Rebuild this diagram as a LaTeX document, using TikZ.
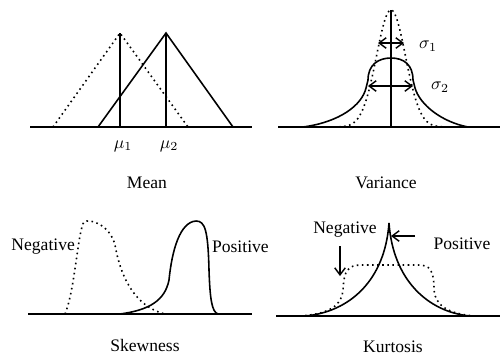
\documentclass[tikz,border=0pt]{standalone}
\usepackage{fontspec}
\setmainfont{Liberation Serif}
\usetikzlibrary{arrows.meta}

\begin{document}
\begin{tikzpicture}[x=0.02cm, y=-0.02cm,
    baseline/.style={line width=0.8pt},
    solidcurve/.style={line width=0.9pt},
    dotcurve/.style={line width=0.9pt, dotted},
    pointer/.style={line width=0.8pt, -{Straight Barb[length=4pt,width=6pt]}},
    twoway/.style={line width=0.8pt, {Straight Barb[length=4pt,width=6pt]}-{Straight Barb[length=4pt,width=6pt]}},
    lbl/.style={font=\normalsize, inner sep=1pt}]
    \useasboundingbox (0,0) rectangle (500,356);

    % Mean
    \draw[baseline] (30,127) -- (252,127);
    \draw[dotcurve] (53,127) -- (120,33) -- (188,127);
    \draw[solidcurve] (98,127) -- (166,33) -- (233,127);
    \draw[solidcurve] (120,33) -- (120,127);
    \draw[solidcurve] (166,33) -- (166,127);
    \node[lbl] (mu1) at (123,146) {$\mu_{1}$};
    \node[lbl] (mu2) at (169,146) {$\mu_{2}$};
    \node[lbl] (meanttl) at (147,183) {Mean};

    % Variance
    \draw[baseline] (278,127) -- (500,127);
    \draw[dotcurve] plot[domain=-52:52, samples=105, smooth] ({391+\x}, {127-117*exp(-(\x/14.5)^2/2)});
    \draw[solidcurve] (303,127) .. controls (340,122) and (362,105) .. (366,88)
        -- (368,80) .. controls (368,65) and (378,58) .. (391,58)
        .. controls (404,58) and (413,65) .. (413,80)
        -- (415,88) .. controls (420,105) and (442,122) .. (468,127);
    \draw[solidcurve] (391,10) -- (391,127);
    \coordinate (s1l) at (378,43);
    \coordinate (s1r) at (404,43);
    \coordinate (s2l) at (368,86);
    \coordinate (s2r) at (413,86);
    \draw[twoway] (s1l) -- (s1r);
    \draw[twoway] (s2l) -- (s2r);
    \node[lbl] (sig1) at (428,46) {$\sigma_{1}$};
    \node[lbl] (sig2) at (440,87) {$\sigma_{2}$};
    \node[lbl] (varttl) at (386,183) {Variance};

    % Skewness
    \draw[baseline] (28,314) -- (252,314);
    \draw[dotcurve] (65,314) .. controls (75,290) and (78,230) .. (84,222)
        .. controls (90,218) and (110,225) .. (115,245)
        .. controls (122,285) and (140,308) .. (165,314);
    \draw[solidcurve] (120,314) .. controls (150,310) and (165,300) .. (169,280)
        .. controls (172,250) and (180,222) .. (196,221)
        .. controls (205,221) and (208,230) .. (209,270)
        .. controls (210,300) and (212,312) .. (218,314);
    \node[lbl, anchor=east] (skneg) at (77,247) {Negative};
    \node[lbl, anchor=west] (skpos) at (210,247) {Positive};
    \node[lbl] (skewttl) at (145,345) {Skewness};

    % Kurtosis
    \draw[baseline] (276,316) -- (500,316);
    \draw[dotcurve] (300,316) .. controls (330,314) and (342,305) .. (343,290)
        .. controls (344,270) and (348,265) .. (362,265) -- (418,265)
        .. controls (430,265) and (434,270) .. (434,290)
        .. controls (435,305) and (448,314) .. (475,316);
    \draw[solidcurve] (305,316) .. controls (350,312) and (385,280) .. (389,223)
        .. controls (393,280) and (428,312) .. (470,316);
    \node[lbl] (kuneg) at (345,230) {Negative};
    \node[lbl] (kupos) at (462,244) {Positive};
    \coordinate (kndown) at (340,276);
    \coordinate (kpeak) at (391,236);
    \draw[pointer] (340,246) -- (kndown);
    \draw[pointer] (415,236) -- (kpeak);
    \node[lbl] (kurtttl) at (393,347) {Kurtosis};
\end{tikzpicture}
\end{document}
